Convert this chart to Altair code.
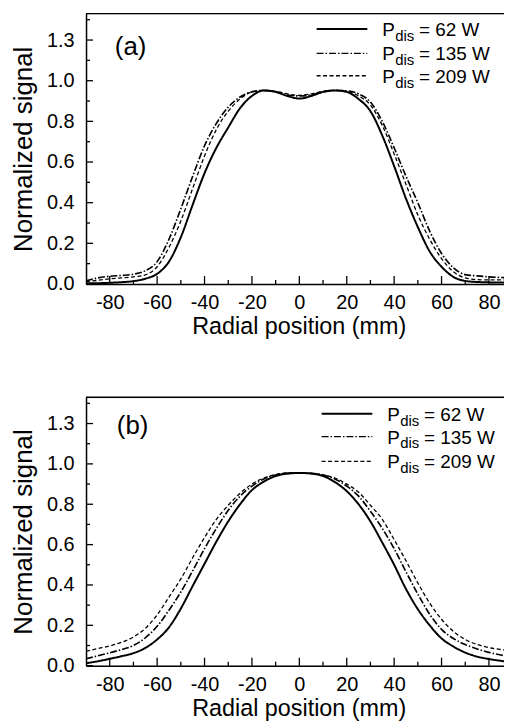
import altair as alt
import pandas as pd

# ---------------- data ----------------
x_pos = list(range(-90, 95, 5))
series_labels = ["62 W", "135 W", "209 W"]

a_62 = [0.003, 0.004, 0.006, 0.009, 0.014, 0.026, 0.05, 0.11, 0.23, 0.39, 0.545, 0.67, 0.77, 0.865, 0.925, 0.952, 0.945, 0.925,
        0.912,
        0.925, 0.945, 0.952, 0.945, 0.91, 0.85, 0.73, 0.58, 0.42, 0.28, 0.16, 0.085, 0.035, 0.015, 0.01, 0.008, 0.007, 0.006]
a_135 = [0.015, 0.03, 0.038, 0.042, 0.048, 0.065, 0.11, 0.22, 0.37, 0.53, 0.68, 0.79, 0.87, 0.92, 0.945, 0.952, 0.945, 0.93,
         0.925,
         0.93, 0.945, 0.952, 0.95, 0.935, 0.895, 0.80, 0.67, 0.53, 0.40, 0.26, 0.15, 0.08, 0.046, 0.04, 0.035, 0.032, 0.03]
a_209 = [0.012, 0.018, 0.025, 0.03, 0.035, 0.045, 0.085, 0.18, 0.31, 0.47, 0.63, 0.76, 0.85, 0.91, 0.945, 0.952, 0.948, 0.935,
         0.928,
         0.935, 0.948, 0.952, 0.948, 0.925, 0.88, 0.78, 0.64, 0.49, 0.34, 0.22, 0.125, 0.06, 0.03, 0.022, 0.02, 0.02, 0.02]

b_62 = [0.012, 0.022, 0.034, 0.047, 0.062, 0.088, 0.13, 0.19, 0.283, 0.395, 0.505, 0.615, 0.715, 0.80, 0.87, 0.912, 0.94, 0.952,
        0.955,
        0.952, 0.94, 0.91, 0.865, 0.80, 0.715, 0.61, 0.50, 0.38, 0.28, 0.2, 0.135, 0.095, 0.065, 0.045, 0.033, 0.024, 0.016]
b_135 = [0.034, 0.049, 0.064, 0.08, 0.10, 0.138, 0.195, 0.275, 0.365, 0.47, 0.58, 0.68, 0.77, 0.84, 0.89, 0.925, 0.945, 0.953,
         0.955,
         0.953, 0.945, 0.925, 0.89, 0.84, 0.765, 0.68, 0.58, 0.465, 0.355, 0.255, 0.18, 0.135, 0.105, 0.083, 0.066, 0.053, 0.042]
b_209 = [0.072, 0.085, 0.098, 0.116, 0.142, 0.185, 0.252, 0.34, 0.43, 0.535, 0.635, 0.725, 0.795, 0.855, 0.9, 0.93, 0.948, 0.955,
         0.955,
         0.953, 0.945, 0.93, 0.9, 0.86, 0.795, 0.725, 0.625, 0.52, 0.41, 0.31, 0.23, 0.17, 0.13, 0.105, 0.09, 0.08, 0.074]

x_tick_values = [-80, -60, -40, -20, 0, 20, 40, 60, 80]
x_tick_labels = ["-80", "-60", "-40", "-20", "0", "20", "40", "60", "80"]
x_minor = [-70, -50, -30, -10, 10, 30, 50, 70]
y_tick_values = [0, 0.2, 0.4, 0.6, 0.8, 1.0, 1.2]
y_tick_labels = ["0.0", "0.2", "0.4", "0.6", "0.8", "1.0", "1.3"]
y_minor = [0.1, 0.3, 0.5, 0.7, 0.9, 1.1, 1.3]

# ---------------- styling ----------------
FONT = "Liberation Sans"
W = 428
X_DOMAIN = [-90, 89.5]
Y_DOMAIN = [0, 1.33]
DASHES = [[1, 0], [7, 2, 1.5, 2], [4, 2.5]]
WIDTHS = [2.0, 1.3, 1.3]


def label_expr(values, labels):
    expr = "''"
    for v, l in reversed(list(zip(values, labels))):
        expr = f"(abs(datum.value - ({v})) < 1e-6 ? '{l}' : {expr})"
    return expr


def one_row():
    return pd.DataFrame({"k": [0]})


def panel(series, tag, tag_x, tag_y, rows, dx, H, title_pad):
    recs = []
    for lab, vals in zip(series_labels, series):
        for xv, yv in zip(x_pos, vals):
            recs.append({"x": xv, "y": yv, "s": lab})
    df = pd.DataFrame(recs)
    xs = alt.Scale(domain=X_DOMAIN, nice=False, zero=False)
    ys = alt.Scale(domain=Y_DOMAIN, nice=False, zero=False)

    lines = alt.Chart(df).mark_line(interpolate="monotone", color="black", clip=True).encode(
        x=alt.X("x:Q", scale=xs, axis=alt.Axis(
            values=x_tick_values, labelExpr=label_expr(x_tick_values, x_tick_labels),
            ticks=False, tickSize=0, labelPadding=9, grid=False,
            domain=True, domainColor="black", domainWidth=1.5,
            labelFontSize=20, labelColor="black", labelFont=FONT,
            title="Radial position (mm)", titleFontSize=23.5, titleFontWeight="normal",
            titleColor="black", titleFont=FONT, titlePadding=title_pad)),
        y=alt.Y("y:Q", scale=ys, axis=alt.Axis(
            values=y_tick_values, labelExpr=label_expr(y_tick_values, y_tick_labels),
            ticks=False, tickSize=0, labelPadding=12, grid=False,
            domain=True, domainColor="black", domainWidth=1.5,
            labelFontSize=20, labelColor="black", labelFont=FONT,
            title="Normalized signal", titleFontSize=26, titleFontWeight="normal",
            titleColor="black", titleFont=FONT, titlePadding=10)),
        detail="s:N",
        strokeDash=alt.StrokeDash("s:N", scale=alt.Scale(domain=series_labels, range=DASHES), legend=None),
        strokeWidth=alt.StrokeWidth("s:N", scale=alt.Scale(domain=series_labels, range=WIDTHS), legend=None),
    )

    layers = [lines]
    # inward ticks
    ymaj = pd.DataFrame({"v": y_tick_values})
    ymin = pd.DataFrame({"v": y_minor})
    xmaj = pd.DataFrame({"v": x_tick_values})
    xmin = pd.DataFrame({"v": x_minor})
    for d, L in ((ymaj, 7), (ymin, 4)):
        layers.append(alt.Chart(d).mark_rule(color="black", strokeWidth=1.3).encode(
            y=alt.Y("v:Q", scale=ys, axis=None), x=alt.value(0), x2=alt.value(L)))
    for d, L in ((xmaj, 8), (xmin, 4)):
        layers.append(alt.Chart(d).mark_rule(color="black", strokeWidth=1.3).encode(
            x=alt.X("v:Q", scale=xs, axis=None), y=alt.value(H), y2=alt.value(H - L)))
    # top frame line
    layers.append(alt.Chart(one_row()).mark_rule(color="black", strokeWidth=1.5).encode(
        x=alt.value(0), x2=alt.value(W), y=alt.value(0)))
    # panel tag
    layers.append(alt.Chart(one_row()).mark_text(
        align="left", baseline="middle", fontSize=26, font=FONT, color="black").encode(
        x=alt.value(tag_x), y=alt.value(tag_y), text=alt.value(tag)))
    # legend
    for i, lab in enumerate(series_labels):
        r = rows[i]
        layers.append(alt.Chart(one_row()).mark_rule(color="black", strokeWidth=WIDTHS[i],
                                                     strokeDash=DASHES[i]).encode(
            x=alt.value(232 + dx), x2=alt.value(283 + dx), y=alt.value(r)))
        layers.append(alt.Chart(one_row()).mark_text(
            align="left", baseline="middle", fontSize=19, font=FONT, color="black").encode(
            x=alt.value(298 + dx), y=alt.value(r + 1), text=alt.value("P")))
        layers.append(alt.Chart(one_row()).mark_text(
            align="left", baseline="middle", fontSize=15, font=FONT, color="black").encode(
            x=alt.value(311 + dx), y=alt.value(r + 7), text=alt.value("dis")))
        layers.append(alt.Chart(one_row()).mark_text(
            align="left", baseline="middle", fontSize=19, font=FONT, color="black").encode(
            x=alt.value(335 + dx), y=alt.value(r + 1), text=alt.value("= " + lab)))
    return alt.layer(*layers).resolve_axis(x="independent", y="independent").properties(width=W, height=H)


pa = panel([a_62, a_135, a_209], "(a)", 29, 33.5, [15.5, 40, 62.5], 0, 272, 2)
pb = panel([b_62, b_135, b_209], "(b)", 31, 29, [16.5, 39.5, 64.5], 5, 270, 2.5)

chart = alt.vconcat(pa, pb, spacing=57).properties(
    padding={"left": 1.5, "top": 1.5, "right": -9.5, "bottom": -1}
).configure_view(strokeWidth=0).configure(font=FONT)

chart.save("out.html", embed_options={"renderer": "svg", "actions": False})
